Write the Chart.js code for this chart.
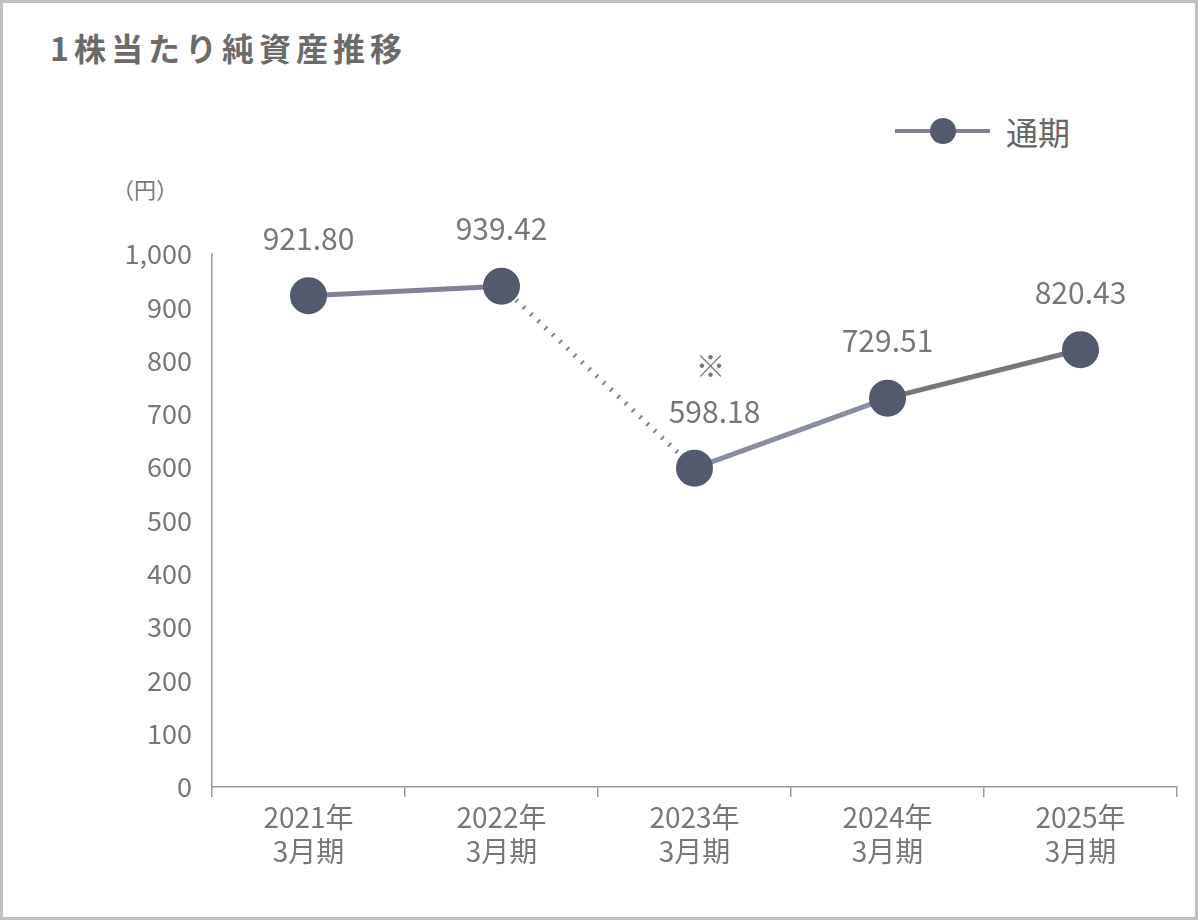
<!DOCTYPE html>
<html><head><meta charset="utf-8">
<script src="https://cdn.jsdelivr.net/npm/chart.js@4"></script>
<style>
body{margin:0;width:1198px;height:920px;overflow:hidden;background:#fff;font-family:"Noto Sans CJK JP",sans-serif}
#frame{position:absolute;left:0;top:0;width:1192px;height:914px;border:3px solid #bfbfbf}
#title{position:absolute;left:50px;top:24px;font-size:32px;font-weight:bold;color:#6b6b6b;letter-spacing:5px}
#unit{position:absolute;left:112px;top:172px;font-size:22px;color:#777}
#legend{position:absolute;left:895px;top:108px;font-size:32px;color:#666;display:flex;align-items:center}
#legend .ln{width:95px;height:4px;background:#7f8296;position:relative;margin-right:16px}
#legend .ln:after{content:"";position:absolute;left:35px;top:-11px;width:26px;height:26px;border-radius:50%;background:#545a6e}
canvas{position:absolute;left:0;top:0}
</style></head><body>
<div id="frame"></div>
<div id="title">1株当たり純資産推移</div>
<div id="legend"><div class="ln"></div>通期</div>
<div id="unit">（円）</div>
<canvas id="c" width="1198" height="920"></canvas>
<script>
const categories=[["2021年","3月期"],["2022年","3月期"],["2023年","3月期"],["2024年","3月期"],["2025年","3月期"]];
const values=[921.80,939.42,598.18,729.51,820.43];
const labels=["921.80","939.42","598.18","729.51","820.43"];
const yTicks=[0,100,200,300,400,500,600,700,800,900,1000];
const segColors=["#7f8296","#7f8296","#8a8ea3","#777777"];
const F='"Noto Sans CJK JP",sans-serif';
const labelPlugin={id:'lbl',afterDatasetsDraw(ch){
 const ctx=ch.ctx,meta=ch.getDatasetMeta(0);
 ctx.save();ctx.fillStyle='#777';ctx.font='30px '+F;ctx.textAlign='center';ctx.textBaseline='alphabetic';
 meta.data.forEach((p,i)=>{
  let x=p.x,y=p.y-46;
  if(i===2){x+=20;y=p.y-45;ctx.fillText('※',x-4,y-46);}
  ctx.fillText(labels[i],x,y);
 });ctx.restore();}};
new Chart(document.getElementById('c'),{type:'line',
 data:{labels:categories,datasets:[{data:values,borderWidth:5,pointRadius:16,pointHoverRadius:16,
  pointBackgroundColor:'#545a6e',pointBorderColor:'#545a6e',borderColor:'#7f8296',clip:false,
  segment:{borderColor:c=>segColors[c.p0DataIndex],borderDash:c=>c.p0DataIndex===1?[2,8]:undefined}}]},
 options:{responsive:false,animation:false,layout:{padding:{top:254,right:18,left:0,bottom:0}},
  plugins:{legend:{display:false},tooltip:{enabled:false}},
  scales:{
   x:{offset:true,afterFit:s=>{s.height=133},
    grid:{offset:true,drawOnChartArea:false,tickLength:10,color:'#999',lineWidth:1.5},
    border:{color:'#999',width:1.5},
    ticks:{color:'#777',font:{size:28,family:F},padding:4}},
   y:{min:0,max:1000,afterFit:s=>{s.width=212},
    afterBuildTicks:s=>{s.ticks=yTicks.map(v=>({value:v}))},
    grid:{display:false},border:{color:'#999',width:1.5},
    ticks:{color:'#777',font:{size:27,family:F},padding:12,callback:v=>v.toLocaleString('en-US')}}
  }},plugins:[labelPlugin]});
</script></body></html>
